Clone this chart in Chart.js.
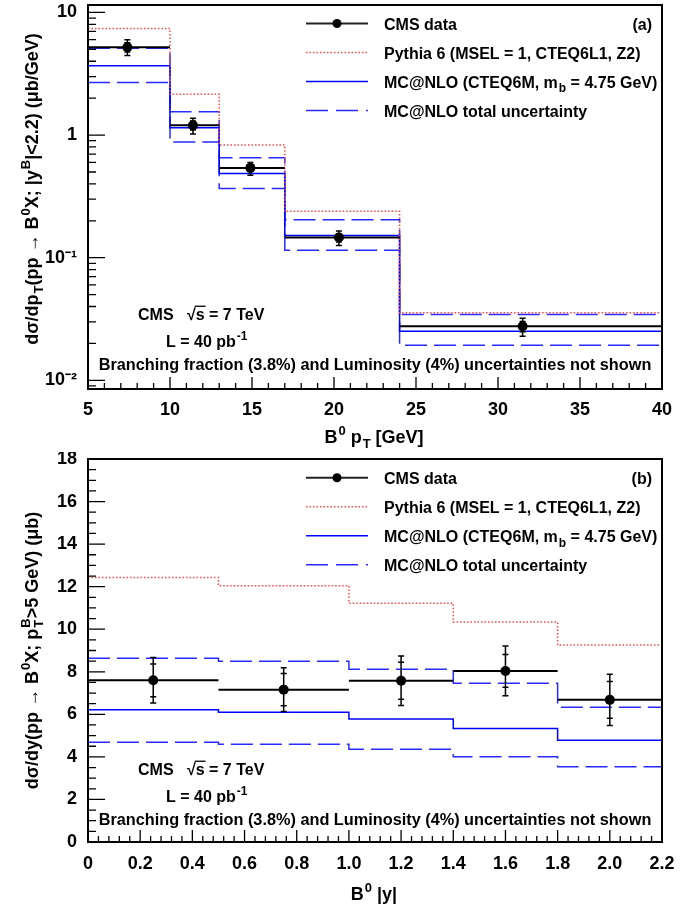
<!DOCTYPE html>
<html>
<head>
<meta charset="utf-8">
<script src="https://cdn.jsdelivr.net/npm/chart.js@4.4.0/dist/chart.umd.min.js"></script>
<style>
  html, body { margin: 0; padding: 0; background: #fff; }
  #wrap { position: relative; width: 689px; height: 905px; }
  canvas { position: absolute; left: 0; }
</style>
</head>
<body>
<div id="wrap">
  <canvas id="ptChart" width="689" height="452" style="top:0"></canvas>
  <canvas id="yChart" width="689" height="453" style="top:452px"></canvas>
</div>
<script>
// (a) d sigma / d pT, bins in GeV
var ptEdges = [5, 10, 13, 17, 24, 40];
var ptCenters = [7.4, 11.4, 14.9, 20.3, 31.5];
var ptData = [5.2, 1.2, 0.54, 0.146, 0.0276];
var ptErrUp = [0.8, 0.17, 0.057, 0.019, 0.0045];
var ptErrDown = [0.75, 0.18, 0.069, 0.02, 0.0047];
var ptStatUp = [0.45, 0.1, 0.035, 0.011, 0.0026];
var ptStatDown = [0.45, 0.1, 0.036, 0.012, 0.0027];
var ptPythia = [7.4, 2.15, 0.83, 0.239, 0.0355];
var ptMcnlo = [3.67, 1.15, 0.485, 0.152, 0.0251];
var ptMcnloHigh = [5.1, 1.55, 0.652, 0.204, 0.0344];
var ptMcnloLow = [2.69, 0.877, 0.366, 0.115, 0.0193];
var ptYTicks = [0.01, 0.1, 1, 10];
var ptYLabels = ['10⁻²', '10⁻¹', '1', '10'];

// (b) d sigma / d|y|, bins in |y|
var yEdges = [0, 0.5, 1.0, 1.4, 1.8, 2.2];
var yCenters = [0.25, 0.75, 1.2, 1.6, 2.0];
var yData = [7.6, 7.16, 7.58, 8.04, 6.68];
var yErrTot = [1.07, 1.03, 1.16, 1.17, 1.2];
var yErrStat = [0.77, 0.76, 0.87, 0.77, 0.86];
var yPythia = [12.43, 12.04, 11.22, 10.34, 9.26];
var yMcnlo = [6.21, 6.1, 5.78, 5.34, 4.78];
var yMcnloHigh = [8.64, 8.5, 8.12, 7.46, 6.33];
var yMcnloLow = [4.69, 4.59, 4.36, 4.01, 3.54];

var FONT = '"Liberation Sans", Arial, Helvetica, sans-serif';
var RED = 'rgb(255,70,70)';
var BLUE = '#0000ff';
var BLUE2 = '#2a2aff';

// text with sub/superscripts, segs: {t}, {sub}, {sup}, {t, over}
function drawRich(ctx, segs, x, y, size, align) {
  var small = Math.round(size * 0.72);
  var parts = [], total = 0;
  segs.forEach(function (s) {
    var w;
    if (s.t !== undefined) {
      ctx.font = 'bold ' + size + 'px ' + FONT;
      w = ctx.measureText(s.t).width;
    } else {
      ctx.font = 'bold ' + small + 'px ' + FONT;
      w = Math.max(s.sub ? ctx.measureText(s.sub).width : 0, s.sup ? ctx.measureText(s.sup).width : 0) + 1;
    }
    parts.push({ s: s, w: w });
    total += w;
  });
  var cx = align === 'center' ? x - total / 2 : (align === 'right' ? x - total : x);
  ctx.textAlign = 'left';
  ctx.textBaseline = 'alphabetic';
  ctx.fillStyle = '#000';
  parts.forEach(function (p) {
    var s = p.s;
    if (s.t !== undefined) {
      ctx.font = 'bold ' + size + 'px ' + FONT;
      ctx.fillText(s.t, cx, y);
      if (s.over) {
        ctx.strokeStyle = '#000';
        ctx.lineWidth = 1.3;
        ctx.beginPath();
        ctx.moveTo(cx - 1, y - size * 0.86);
        ctx.lineTo(cx + p.w + 1, y - size * 0.86);
        ctx.stroke();
      }
    } else {
      ctx.font = 'bold ' + small + 'px ' + FONT;
      if (s.sup) ctx.fillText(s.sup, cx + 1, y - size * 0.42);
      if (s.sub) ctx.fillText(s.sub, cx + 1, y + size * 0.3);
    }
    cx += p.w;
  });
}

function histPoints(edges, vals) {
  var pts = vals.map(function (v, i) { return { x: edges[i], y: v }; });
  pts.push({ x: edges[edges.length - 1], y: vals[vals.length - 1] });
  return pts;
}

function histSet(edges, vals, color, dash, width) {
  return {
    data: histPoints(edges, vals),
    stepped: 'before',
    borderColor: color,
    borderDash: dash,
    borderWidth: width,
    pointRadius: 0,
    fill: false,
    showLine: true
  };
}

function pointSet(centers, vals) {
  return {
    data: centers.map(function (c, i) { return { x: c, y: vals[i] }; }),
    showLine: false,
    pointRadius: 5,
    pointBackgroundColor: '#000',
    pointBorderColor: '#000',
    pointBorderWidth: 0
  };
}

var legendLabels = [
  { kind: 'data', segs: [{ t: 'CMS data' }] },
  { kind: 'dot', segs: [{ t: 'Pythia 6 (MSEL = 1, CTEQ6L1, Z2)' }] },
  { kind: 'solid', segs: [{ t: 'MC@NLO (CTEQ6M, m' }, { sub: 'b' }, { t: ' = 4.75 GeV)' }] },
  { kind: 'dash', segs: [{ t: 'MC@NLO total uncertainty' }] }
];
var cmsText = [{ t: 'CMS   √' }, { t: 's', over: true }, { t: ' = 7 TeV' }];
var lumiText = [{ t: 'L = 40 pb' }, { sup: '-1' }];
var noteText = [{ t: 'Branching fraction (3.8%) and Luminosity (4%) uncertainties not shown' }];

function decorPlugin(o) {
  return {
    id: 'decor',
    afterDatasetsDraw: function (chart) {
      var ctx = chart.ctx, a = chart.chartArea;
      var xs = chart.scales.x, ys = chart.scales.y;
      ctx.save();
      // data: bin-width bars and error bars
      o.centers.forEach(function (c, i) {
        var py = ys.getPixelForValue(o.vals[i]);
        var px = xs.getPixelForValue(c);
        ctx.strokeStyle = '#000';
        ctx.lineWidth = 2;
        ctx.beginPath();
        ctx.moveTo(xs.getPixelForValue(o.edges[i]), py);
        ctx.lineTo(xs.getPixelForValue(o.edges[i + 1]), py);
        ctx.stroke();
        var tHi = ys.getPixelForValue(o.vals[i] + o.errUp[i]);
        var tLo = ys.getPixelForValue(o.vals[i] - o.errDown[i]);
        var sHi = ys.getPixelForValue(o.vals[i] + o.statUp[i]);
        var sLo = ys.getPixelForValue(o.vals[i] - o.statDown[i]);
        ctx.lineWidth = 1.5;
        ctx.beginPath();
        ctx.moveTo(px, tHi); ctx.lineTo(px, tLo);
        [tHi, tLo, sHi, sLo].forEach(function (yy) {
          ctx.moveTo(px - 3, yy); ctx.lineTo(px + 3, yy);
        });
        ctx.stroke();
      });

      // inner ticks
      ctx.strokeStyle = '#000';
      ctx.lineWidth = 1.3;
      ctx.beginPath();
      o.xMinor.forEach(function (v) {
        var p = xs.getPixelForValue(v);
        ctx.moveTo(p, a.bottom); ctx.lineTo(p, a.bottom - 6);
      });
      xs.ticks.forEach(function (t) {
        var p = xs.getPixelForValue(t.value);
        ctx.moveTo(p, a.bottom); ctx.lineTo(p, a.bottom - 12);
      });
      o.yMinor.forEach(function (v) {
        var p = ys.getPixelForValue(v);
        ctx.moveTo(a.left, p); ctx.lineTo(a.left + 8, p);
      });
      ys.ticks.forEach(function (t) {
        var p = ys.getPixelForValue(t.value);
        ctx.moveTo(a.left, p); ctx.lineTo(a.left + 17, p);
      });
      ctx.stroke();
      ctx.lineWidth = 2;
      ctx.strokeRect(a.left, a.top, a.right - a.left, a.bottom - a.top);

      // legend
      var sx0 = 306, sx1 = 368;
      legendLabels.forEach(function (it, k) {
        var ly = o.legendY + k * 29;
        ctx.save();
        ctx.beginPath();
        if (it.kind === 'data') {
          ctx.strokeStyle = '#222'; ctx.lineWidth = 2;
        } else if (it.kind === 'dot') {
          ctx.strokeStyle = RED; ctx.lineWidth = 1.5; ctx.setLineDash([1.5, 2]);
        } else if (it.kind === 'solid') {
          ctx.strokeStyle = BLUE; ctx.lineWidth = 1.5;
        } else {
          ctx.strokeStyle = BLUE2; ctx.lineWidth = 1.5; ctx.setLineDash([22, 8]);
        }
        ctx.moveTo(sx0, ly); ctx.lineTo(sx1, ly);
        ctx.stroke();
        if (it.kind === 'data') {
          ctx.fillStyle = '#000';
          ctx.beginPath();
          ctx.arc((sx0 + sx1) / 2, ly, 4.5, 0, Math.PI * 2);
          ctx.fill();
        }
        ctx.restore();
        drawRich(ctx, it.segs, 384, ly + 6, 16, 'left');
      });
      drawRich(ctx, [{ t: o.tag }], 652, o.legendY + 6, 16, 'right');

      // annotations
      drawRich(ctx, cmsText, 138, o.noteY - 50, 16, 'left');
      drawRich(ctx, lumiText, 166, o.noteY - 23, 16, 'left');
      drawRich(ctx, noteText, 375, o.noteY, 16.3, 'center');

      // axis titles
      drawRich(ctx, o.xTitle, 374, o.xTitleY, 18, 'center');
      ctx.save();
      ctx.translate(31, (a.top + a.bottom) / 2 + o.yTitleShift);
      ctx.rotate(-Math.PI / 2);
      drawRich(ctx, o.yTitle, 0, 6.5, 18, 'center');
      ctx.restore();
      ctx.restore();
    }
  };
}

function range(a, b, step) {
  var out = [];
  for (var v = a; v <= b + 1e-9; v += step) out.push(Math.round(v * 1000) / 1000);
  return out;
}

var logMinor = [];
[0.001, 0.01, 0.1, 1, 10].forEach(function (d) {
  for (var k = 2; k <= 9; k++) logMinor.push(k * d);
});
logMinor = logMinor.filter(function (v) { return v > 0.0085 && v < 11.5; });

var tickFont = { family: FONT, size: 18, weight: 'bold' };

// keep the frame where it is: no extra room for overhanging edge labels
function fixX(s) { s.height = 63; s.paddingLeft = 0; s.paddingRight = 0; }
function fixY(s) { s.width = 88; s.paddingTop = 0; s.paddingBottom = 0; }

new Chart(document.getElementById('ptChart').getContext('2d'), {
  type: 'line',
  data: {
    datasets: [
      pointSet(ptCenters, ptData),
      histSet(ptEdges, ptPythia, RED, [1.5, 2], 1.5),
      histSet(ptEdges, ptMcnlo, BLUE, [], 1.5),
      histSet(ptEdges, ptMcnloHigh, BLUE2, [22, 7], 1.5),
      histSet(ptEdges, ptMcnloLow, BLUE2, [22, 7], 1.5)
    ]
  },
  options: {
    responsive: false,
    animation: false,
    layout: { padding: { left: 0, right: 27, top: 5, bottom: 0 } },
    plugins: { legend: { display: false }, tooltip: { enabled: false } },
    scales: {
      x: {
        type: 'linear', min: 5, max: 40,
        grid: { display: false, drawTicks: false },
        border: { display: false },
        ticks: { stepSize: 5, padding: 10, color: '#000', font: tickFont, maxRotation: 0 },
        afterFit: fixX
      },
      y: {
        type: 'logarithmic', min: 0.0085, max: 11.5,
        grid: { display: false, drawTicks: false },
        border: { display: false },
        afterBuildTicks: function (s) { s.ticks = ptYTicks.map(function (v) { return { value: v }; }); },
        ticks: {
          padding: 11, color: '#000', font: tickFont,
          callback: function (v) { var i = ptYTicks.indexOf(v); return i >= 0 ? ptYLabels[i] : ''; }
        },
        afterFit: fixY
      }
    }
  },
  plugins: [decorPlugin({
    edges: ptEdges, centers: ptCenters, vals: ptData,
    errUp: ptErrUp, errDown: ptErrDown, statUp: ptStatUp, statDown: ptStatDown,
    xMinor: range(5, 40, 1), yMinor: logMinor,
    legendY: 23.5, tag: '(a)', noteY: 370, xTitleY: 443, yTitleShift: -8,
    xTitle: [{ t: 'B' }, { sup: '0' }, { t: ' p' }, { sub: 'T' }, { t: ' [GeV]' }],
    yTitle: [{ t: 'dσ/dp' }, { sub: 'T' }, { t: '(pp → B' }, { sup: '0' }, { t: 'X; |y' }, { sup: 'B' }, { t: '|<2.2) (μb/GeV)' }]
  })]
});

new Chart(document.getElementById('yChart').getContext('2d'), {
  type: 'line',
  data: {
    datasets: [
      pointSet(yCenters, yData),
      histSet(yEdges, yPythia, RED, [1.5, 2], 1.5),
      histSet(yEdges, yMcnlo, BLUE, [], 1.5),
      histSet(yEdges, yMcnloHigh, BLUE2, [22, 7], 1.5),
      histSet(yEdges, yMcnloLow, BLUE2, [22, 7], 1.5)
    ]
  },
  options: {
    responsive: false,
    animation: false,
    layout: { padding: { left: 0, right: 27, top: 7, bottom: 0 } },
    plugins: { legend: { display: false }, tooltip: { enabled: false } },
    scales: {
      x: {
        type: 'linear', min: 0, max: 2.2,
        grid: { display: false, drawTicks: false },
        border: { display: false },
        ticks: { stepSize: 0.2, padding: 11, color: '#000', font: tickFont, maxRotation: 0 },
        afterFit: fixX
      },
      y: {
        type: 'linear', min: 0, max: 18,
        grid: { display: false, drawTicks: false },
        border: { display: false },
        ticks: { stepSize: 2, padding: 11, color: '#000', font: tickFont },
        afterFit: fixY
      }
    }
  },
  plugins: [decorPlugin({
    edges: yEdges, centers: yCenters, vals: yData,
    errUp: yErrTot, errDown: yErrTot, statUp: yErrStat, statDown: yErrStat,
    xMinor: range(0, 2.2, 0.04), yMinor: range(0, 18, 0.5),
    legendY: 25.7, tag: '(b)', noteY: 373, xTitleY: 448, yTitleShift: 0,
    xTitle: [{ t: 'B' }, { sup: '0' }, { t: ' |y|' }],
    yTitle: [{ t: 'dσ/dy(pp → B' }, { sup: '0' }, { t: 'X; p' }, { sub: 'T', sup: 'B' }, { t: '>5 GeV) (μb)' }]
  })]
});
</script>
</body>
</html>
